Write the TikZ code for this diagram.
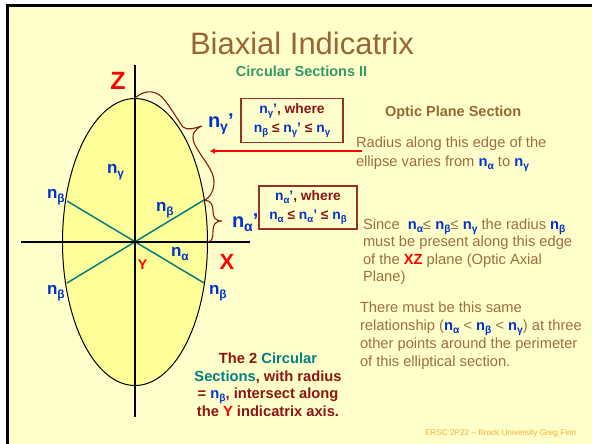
\documentclass[tikz,border=0pt]{standalone}
\usepackage{fontspec}
\setmainfont{Liberation Sans}
\usetikzlibrary{arrows.meta}
\definecolor{bg}{RGB}{255,255,204}
\definecolor{ellfill}{RGB}{255,255,153}
\definecolor{titlebrown}{RGB}{153,102,51}
\definecolor{bodybrown}{RGB}{158,110,60}
\definecolor{subgreen}{RGB}{51,153,102}
\definecolor{darkred}{RGB}{140,20,20}
\definecolor{boxred}{RGB}{150,50,40}
\definecolor{nblue}{RGB}{0,51,204}
\definecolor{tealc}{RGB}{0,128,128}
\definecolor{redc}{RGB}{255,0,0}
\definecolor{footorange}{RGB}{255,170,51}
\newcommand{\fs}[2]{\fontsize{#1}{#2}\selectfont}
\newcommand{\gsb}[1]{\raisebox{-0.45ex}{\scalebox{0.7}{#1}}}
\newcommand{\nsub}[1]{\textcolor{nblue}{\bfseries n\gsb{#1}}}
\tikzset{
  lbl/.style={anchor=base west, text=nblue, font=\bfseries\fs{17}{20}},
  biglbl/.style={anchor=base west, text=nblue, font=\bfseries\fs{20}{24}},
  bodyline/.style={anchor=base west, text=bodybrown, font=\fs{14.7}{18}},
  botline/.style={anchor=base, text=darkred, font=\bfseries\fs{14.7}{18}},
  infobox/.style={draw=boxred, line width=1.3pt, minimum width=#1, minimum height=44pt, align=center, text=darkred, font=\bfseries\fs{13.8}{19.5}},
  bracec/.style={draw=darkred, line width=1.1pt},
  axisline/.style={draw=black, line width=1.2pt},
  secline/.style={draw=tealc, line width=1.5pt}
}
\begin{document}
\begin{tikzpicture}[x=1pt,y=-1pt, every node/.style={inner sep=0pt, outer sep=0pt}]
\useasboundingbox (0,0) rectangle (592,444);
\fill[white] (0,0) rectangle (592,444);
\fill[bg] (7,5.5) rectangle (592,444);
\draw[line width=2.7pt] (7.3,444) -- (7.3,5.5) -- (592,5.5);

% title
\node[anchor=base, text=titlebrown, font=\fs{31}{36}] (title) at (302,55) {Biaxial Indicatrix};
\node[anchor=base, text=subgreen, font=\bfseries\fs{14.5}{17}] (subtitle) at (301.5,77) {Circular Sections II};

% ellipse and axes
\coordinate (ctr) at (135,242);
\fill[ellfill] (ctr) ellipse [x radius=72.5, y radius=143.5];
\coordinate (xl) at (21,242);
\coordinate (xr) at (250,242);
\coordinate (zt) at (135,65);
\coordinate (zb) at (135,417);
\coordinate (s1a) at (67,201);
\coordinate (s1b) at (204,283);
\coordinate (s2a) at (67,283);
\coordinate (s2b) at (204,200);
\draw[secline] (s1a) -- (s1b);
\draw[secline] (s2a) -- (s2b);
\draw[black, line width=1pt] (ctr) ellipse [x radius=72.5, y radius=143.5];
\draw[axisline] (xl) -- (xr);
\draw[axisline] (zt) -- (zb);

% axis labels
\node[anchor=base, text=redc, font=\bfseries\fs{25}{28}] (zlab) at (118,90) {Z};
\node[anchor=base, text=redc, font=\bfseries\fs{22}{26}] (xlab) at (227,269) {X};
\node[anchor=base, text=redc, font=\bfseries\fs{14}{17}] (ylab) at (142.5,269) {Y};

% n labels
\node[lbl] (ng) at (107,173) {n\gsb{γ}};
\node[lbl] (nb1) at (47,198) {n\gsb{β}};
\node[lbl] (nb2) at (156,211) {n\gsb{β}};
\node[lbl] (na) at (171,256) {n\gsb{α}};
\node[lbl] (nb3) at (47,294) {n\gsb{β}};
\node[lbl] (nb4) at (209,294) {n\gsb{β}};
\node[biglbl] (ngp) at (208,127) {n\gsb{γ}’};
\node[biglbl] (nap) at (232,227) {n\gsb{α}’};

% braces
\coordinate (b1s) at (135,98);
\coordinate (b1t) at (202,126);
\coordinate (b1e) at (205,200);
\draw[bracec] (b1s) .. controls (143,91) and (153,89) .. (162,97)
  .. controls (170,106) and (177,119) .. (183,127)
  .. controls (187,131) and (195,128) .. (b1t)
  .. controls (195,129) and (190,134) .. (195,145)
  .. controls (203,160) and (214,170) .. (214,182)
  .. controls (214,192) and (209,198) .. (b1e);
\coordinate (b2t) at (222,221);
\coordinate (b2e) at (207,242);
\draw[bracec] (b1e) .. controls (211,201) and (213,205) .. (213,211)
  .. controls (213,217) and (215,221) .. (b2t)
  .. controls (215,221) and (213,225) .. (213,231)
  .. controls (213,238) and (212,242) .. (b2e);

% boxes
\node[infobox=102pt] (box1) at (292,120.5) {\nsub{γ}\textcolor{nblue}{’}, where\\\nsub{β} ≤ \nsub{γ}\textcolor{nblue}{’} ≤ \nsub{γ}};
\node[infobox=98pt, minimum height=43pt] (box2) at (308,207.5) {\nsub{α}\textcolor{nblue}{’}, where\\\nsub{α} ≤ \nsub{α}\textcolor{nblue}{’} ≤ \nsub{β}};

% red arrow
\coordinate (arrS) at (362,151);
\coordinate (arrE) at (210,151);
\draw[redc, line width=1.4pt, -{Triangle[length=5pt,width=5pt]}] (arrS) -- (arrE);

% right text
\node[anchor=base west, text=titlebrown, font=\bfseries\fs{14.5}{17}] (opt) at (385,116) {Optic Plane Section};
\node[bodyline] (r1) at (356,147) {Radius along this edge of the};
\node[bodyline] (r2) at (356,166) {ellipse varies from \nsub{α} to \nsub{γ}};

\node[bodyline] (s1) at (363,229) {Since\ \ \nsub{α}≤ \nsub{β}≤ \nsub{γ} the radius \nsub{β}};
\node[bodyline] (s2) at (363,246.5) {must be present along this edge};
\node[bodyline] (s3) at (363,264) {of the \textcolor{redc}{\bfseries XZ} plane (Optic Axial};
\node[bodyline] (s4) at (363,281.5) {Plane)};

\node[bodyline] (t1) at (360,312) {There must be this same};
\node[bodyline] (t2) at (360,330) {relationship (\nsub{α} < \nsub{β} < \nsub{γ}) at three};
\node[bodyline] (t3) at (360,348) {other points around the perimeter};
\node[bodyline] (t4) at (360,366) {of this elliptical section.};

% bottom text
\node[botline] (c1) at (268,363) {The 2 \textcolor{tealc}{Circular}};
\node[botline] (c2) at (268,381) {\textcolor{tealc}{Sections}, with radius};
\node[botline] (c3) at (268,398.5) {= \nsub{β}, intersect along};
\node[botline] (c4) at (268,416) {the \textcolor{redc}{Y} indicatrix axis.};

% footer
\node[anchor=base west, text=footorange, font=\fs{8.2}{10}] (foot) at (425,435) {ERSC 2P22 – Brock University Greg Finn};
\end{tikzpicture}
\end{document}
